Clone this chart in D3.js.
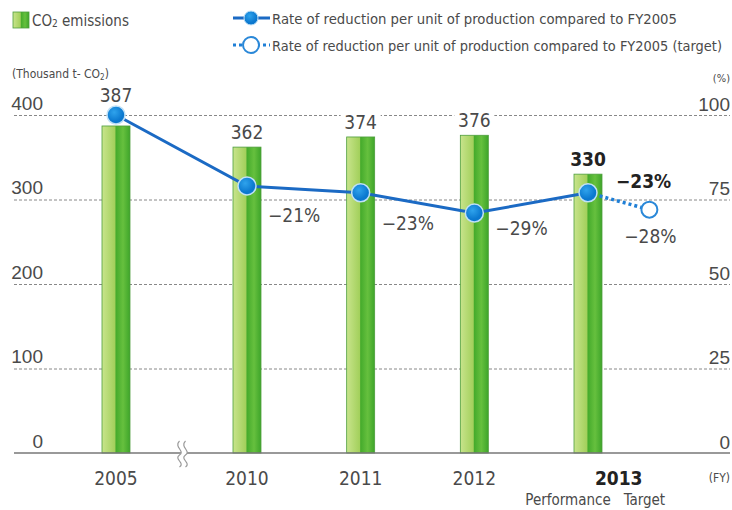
<!DOCTYPE html>
<html>
<head>
<meta charset="utf-8">
<script src="https://cdn.jsdelivr.net/npm/d3@7/dist/d3.min.js"></script>
<style>
  body { margin: 0; background: #fff; }
  svg { display: block; font-family: "DejaVu Sans Condensed", "Liberation Sans", sans-serif; }
</style>
</head>
<body>
<svg id="chart" width="732" height="510"></svg>
<script>
// data
const years = [2005, 2010, 2011, 2012, 2013];
const emissions = [387, 362, 374, 376, 330];
const reduction = [null, -21, -23, -29, -23]; // % vs FY2005
const targetReduction = -28;
const leftTicks = [0, 100, 200, 300, 400];
const rightTicks = [0, 25, 50, 75, 100];

const svg = d3.select('#chart');
const xLeft = 14, xRight = 730, yTop = 115, yBottom = 453;

// broken x axis: 2005 sits alone before the break
const x = d3.scaleLinear()
    .domain([2005, 2010, 2013])
    .range([116, 247, 588]);
const targetX = x(2013) + (x(2013) - x(2012)) * 0.54;

const y = d3.scaleLinear().domain([0, 400]).range([yBottom, yTop]);
const y2 = d3.scaleLinear().domain([0, 100]).range([yBottom, yTop]);

const textCol = '#4a4a4a';
const blue = '#1b6ac4';

const defs = svg.append('defs');
const grad = defs.append('linearGradient').attr('id', 'barGrad');
grad.selectAll('stop')
    .data([
        ['0%', '#c8e48c'], ['46%', '#a3d05c'], ['50%', '#45ab2c'],
        ['75%', '#66c03e'], ['100%', '#3ea52a'],
    ])
    .enter().append('stop')
    .attr('offset', (d) => d[0])
    .attr('stop-color', (d) => d[1]);
const mgrad = defs.append('radialGradient').attr('id', 'dotGrad')
    .attr('cx', '40%').attr('cy', '35%');
mgrad.append('stop').attr('offset', '0%').attr('stop-color', '#2fa3ec');
mgrad.append('stop').attr('offset', '100%').attr('stop-color', '#0b78cf');

// gridlines + left labels
const yAxis = d3.axisLeft(y).tickValues(leftTicks).tickSize(-(xRight - xLeft)).tickFormat(d3.format('d'));
const gy = svg.append('g').attr('transform', `translate(${xLeft},0)`).call(yAxis);
gy.select('.domain').remove();
gy.selectAll('.tick line')
    .attr('stroke', '#888')
    .attr('stroke-dasharray', '3,2')
    .attr('stroke-width', 1)
    .attr('opacity', (d) => (d === 0 ? 0 : 1));
gy.selectAll('.tick text')
    .attr('x', 29).attr('y', -6).attr('dy', 0)
    .attr('text-anchor', 'end')
    .attr('fill', textCol)
    .style('font-size', '19px');

// right labels
const y2Axis = d3.axisRight(y2).tickValues(rightTicks).tickSize(0).tickFormat(d3.format('d'));
const gy2 = svg.append('g').attr('transform', `translate(${xRight},0)`).call(y2Axis);
gy2.select('.domain').remove();
gy2.selectAll('.tick text')
    .attr('x', 0).attr('y', -5).attr('dy', 0)
    .attr('text-anchor', 'end')
    .attr('fill', textCol)
    .style('font-size', '19px');

// unit labels
const unit = svg.append('text').attr('x', 12).attr('y', 78)
    .attr('fill', textCol).style('font-size', '12px')
    .text('(Thousand t- CO');
unit.append('tspan').attr('font-size', '8px').attr('dy', 2).text('2');
unit.append('tspan').attr('dy', -2).text(')');
svg.append('text').attr('x', xRight).attr('y', 82).attr('text-anchor', 'end')
    .attr('fill', textCol).style('font-size', '11px').text('(%)');

// bars
const barW = 28;
svg.append('g').selectAll('rect')
    .data(emissions)
    .enter().append('rect')
    .attr('x', (d, i) => x(years[i]) - barW / 2)
    .attr('y', (d) => y(d))
    .attr('width', barW)
    .attr('height', (d) => yBottom - y(d))
    .attr('fill', 'url(#barGrad)')
    .attr('stroke', '#4e9e3c')
    .attr('stroke-width', 0.8);

// bar value labels (white box breaks the gridline)
const valG = svg.append('g');
emissions.forEach((d, i) => {
    const cx = x(years[i]);
    const my = reduction[i] === null ? y2(100) : y2(100 + reduction[i]);
    const by = Math.min(y(d) - 8, my - 13);
    const isLast = i === emissions.length - 1;
    valG.append('rect')
        .attr('x', cx - 20).attr('y', by - 18).attr('width', 40).attr('height', 22)
        .attr('fill', '#fff');
    valG.append('text')
        .attr('x', cx).attr('y', by)
        .attr('text-anchor', 'middle')
        .attr('fill', isLast ? '#222' : textCol)
        .attr('font-weight', isLast ? 'bold' : 'normal')
        .style('font-size', '19px')
        .text(d);
});

// baseline and break mark
svg.append('line')
    .attr('x1', xLeft).attr('x2', xRight).attr('y1', yBottom).attr('y2', yBottom)
    .attr('stroke', '#777').attr('stroke-width', 1.5);
const bx = (x(2005) + x(2010)) / 2;
const brk = svg.append('g').attr('transform', `translate(${bx},${yBottom})`);
brk.append('path')
    .attr('d', 'M-2,-12 C-8,-6 4,-2 -2,2 C-8,6 4,10 -2,14 L4,14 C10,10 -2,6 4,2 C10,-2 -2,-6 4,-12 Z')
    .attr('fill', '#fff');
['M-2,-12 C-8,-6 4,-2 -2,2 C-8,6 4,10 -2,14', 'M4,-12 C-2,-6 10,-2 4,2 C-2,6 10,10 4,14'].forEach((p) => {
    brk.append('path').attr('d', p).attr('fill', 'none')
        .attr('stroke', '#999').attr('stroke-width', 1.2);
});

// x labels
svg.append('g').selectAll('text')
    .data(years.slice(0, 4))
    .enter().append('text')
    .attr('x', (d) => x(d)).attr('y', 485)
    .attr('text-anchor', 'middle')
    .attr('fill', textCol)
    .style('font-size', '19px')
    .text((d) => d);
svg.append('text')
    .attr('x', (x(2013) + targetX) / 2).attr('y', 485)
    .attr('text-anchor', 'middle').attr('fill', '#222').attr('font-weight', 'bold')
    .style('font-size', '19px').text('2013');
svg.append('text').attr('x', x(2013) - 20).attr('y', 505).attr('text-anchor', 'middle')
    .attr('fill', textCol).style('font-size', '15px').text('Performance');
svg.append('text').attr('x', targetX - 5).attr('y', 505).attr('text-anchor', 'middle')
    .attr('fill', textCol).style('font-size', '15px').text('Target');
svg.append('text').attr('x', xRight).attr('y', 482).attr('text-anchor', 'end')
    .attr('fill', textCol).style('font-size', '12px').text('(FY)');

// reduction line
const pts = years.map((yr, i) => ({ x: x(yr), v: 100 + (reduction[i] || 0), r: reduction[i] }));
const line = d3.line().x((d) => d.x).y((d) => y2(d.v));
svg.append('path').datum(pts).attr('d', line)
    .attr('fill', 'none').attr('stroke', blue).attr('stroke-width', 3);
const lastPt = pts[pts.length - 1];
const tgt = { x: targetX, v: 100 + targetReduction };
svg.append('path').datum([lastPt, tgt]).attr('d', line)
    .attr('fill', 'none').attr('stroke', '#1f7fd6').attr('stroke-width', 3.5)
    .attr('stroke-dasharray', '3,3');
svg.append('g').selectAll('circle')
    .data(pts)
    .enter().append('circle')
    .attr('cx', (d) => d.x).attr('cy', (d) => y2(d.v)).attr('r', 9)
    .attr('fill', 'url(#dotGrad)')
    .attr('stroke', '#bfe0f7').attr('stroke-width', 1.5);
svg.append('circle')
    .attr('cx', tgt.x).attr('cy', y2(tgt.v)).attr('r', 8)
    .attr('fill', '#fff').attr('stroke', '#2a88d8').attr('stroke-width', 2);

// % labels
const pctDy = [0, 36, 37, 22, -5];
const fmtPct = (v) => `\u2212${Math.abs(v)}%`;
pts.forEach((d, i) => {
    if (d.r === null) return;
    const isLast = i === pts.length - 1;
    svg.append('text')
        .attr('x', d.x + (isLast ? 28 : 21)).attr('y', y2(d.v) + pctDy[i])
        .attr('fill', isLast ? '#222' : textCol)
        .attr('font-weight', isLast ? 'bold' : 'normal')
        .style('font-size', '19px')
        .text(fmtPct(d.r));
});
svg.append('text')
    .attr('x', tgt.x + 1).attr('y', y2(tgt.v) + 33).attr('text-anchor', 'middle')
    .attr('fill', textCol).style('font-size', '19px')
    .text(fmtPct(targetReduction));

// legend
const lg = svg.append('g');
lg.append('rect').attr('x', 13).attr('y', 12).attr('width', 16).attr('height', 16)
    .attr('fill', 'url(#barGrad)').attr('stroke', '#4e9e3c').attr('stroke-width', 0.8);
const lt = lg.append('text').attr('x', 32).attr('y', 26).attr('fill', textCol)
    .style('font-size', '15px').text('CO');
lt.append('tspan').attr('font-size', '10px').attr('dy', 1).text('2');
lt.append('tspan').attr('dy', -1).text(' emissions');

const lgItems = [
    { y: 18, dashed: false, len: 405, label: 'Rate of reduction per unit of production compared to FY2005' },
    { y: 45, dashed: true, len: 450, label: 'Rate of reduction per unit of production compared to FY2005 (target)' },
];
lgItems.forEach((it) => {
    lg.append('line').attr('x1', 233).attr('x2', 270).attr('y1', it.y).attr('y2', it.y)
        .attr('stroke', it.dashed ? '#1f7fd6' : blue).attr('stroke-width', 3)
        .attr('stroke-dasharray', it.dashed ? '3,3' : null);
    lg.append('circle').attr('cx', 251).attr('cy', it.y).attr('r', it.dashed ? 8 : 7)
        .attr('fill', it.dashed ? '#fff' : 'url(#dotGrad)')
        .attr('stroke', it.dashed ? '#2a88d8' : '#bfe0f7')
        .attr('stroke-width', it.dashed ? 2 : 1);
    lg.append('text').attr('x', 272).attr('y', it.y + 6).attr('fill', textCol)
        .style('font-size', '14px')
        .attr('textLength', it.len).attr('lengthAdjust', 'spacingAndGlyphs')
        .text(it.label);
});
</script>
</body>
</html>
